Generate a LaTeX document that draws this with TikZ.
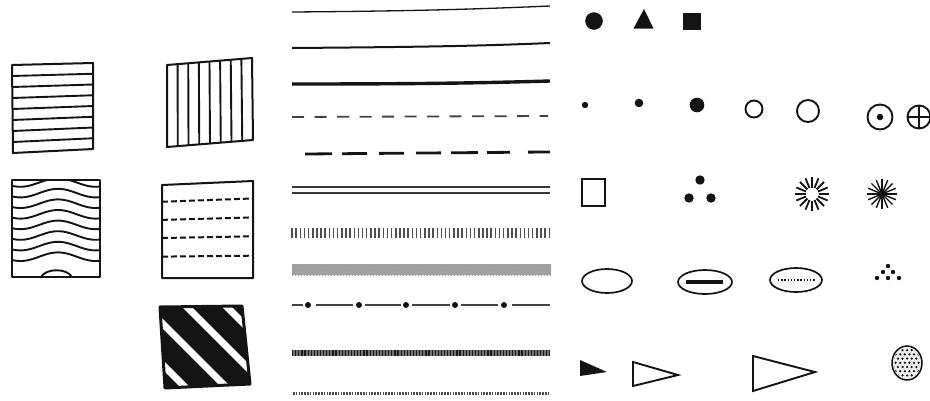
\documentclass[tikz,border=0pt]{standalone}
\usepackage{tikz}
\usetikzlibrary{calc, patterns}
\definecolor{inkblack}{RGB}{20, 20, 20}
\definecolor{screengray}{RGB}{155, 155, 155}
\definecolor{dotfill}{RGB}{238, 238, 238}
\tikzset{
  boxline/.style={draw=inkblack, line width=2pt, line join=round},
  hatchline/.style={draw=inkblack, line width=1.9pt},
  symline/.style={draw=inkblack, line width=1.9pt},
}

\begin{document}
\begin{tikzpicture}[x=1pt, y=-1pt]
  \fill[white] (0,0) rectangle (930,400);
  \useasboundingbox (0,0) rectangle (930,400);

  % Horizontal hatching
  \coordinate (hTL) at (12,65);  \coordinate (hTR) at (93,63);
  \coordinate (hBR) at (93,149); \coordinate (hBL) at (13,153);
  \draw[boxline] (hTL) -- (hTR) -- (hBR) -- (hBL) -- cycle;
  \foreach \i in {1,...,7}
    \draw[hatchline] ($(hTL)!\i/8!(hBL)$) -- ($(hTR)!\i/8!(hBR)$);

  % Vertical hatching
  \coordinate (vTL) at (167,65);  \coordinate (vTR) at (252,58);
  \coordinate (vBR) at (253,140); \coordinate (vBL) at (167,147);
  \draw[boxline] (vTL) -- (vTR) -- (vBR) -- (vBL) -- cycle;
  \foreach \i in {1,...,7}
    \draw[hatchline] ($(vTL)!\i/8!(vTR)$) -- ($(vBL)!\i/8!(vBR)$);

  % Wavy hatching
  \begin{scope}
    \clip (12,180) rectangle (100,277);
    \foreach \i in {0,...,7}
      \draw[hatchline] plot[domain=12:100, samples=45, smooth]
        (\x, {182.5+10.6*\i-4.3*cos(4.8*(\x-58))});
    \draw[hatchline] (41,277) .. controls (46,268) and (67,268) .. (72,277);
  \end{scope}
  \draw[boxline] (12,180) rectangle (100,277);

  % Dashed hatching
  \coordinate (dTL) at (162,185); \coordinate (dTR) at (253,181);
  \coordinate (dBR) at (253,278); \coordinate (dBL) at (162,278);
  \draw[boxline] (dTL) -- (dTR) -- (dBR) -- (dBL) -- cycle;
  \foreach \f in {0.18, 0.375, 0.57, 0.77}
    \draw[hatchline, line width=2pt, dash pattern=on 6pt off 3pt]
      ($(dTL)!\f!(dBL)$) -- ($(dTR)!\f!(dBR)$);

  % Diagonal stripes
  \coordinate (sTL) at (160,307); \coordinate (sTR) at (242,306);
  \coordinate (sBR) at (250,384); \coordinate (sBL) at (165,388);
  \fill[inkblack] (sTL) -- (sTR) -- (sBR) -- (sBL) -- cycle;
  \begin{scope}
    \clip (sTL) -- (sTR) -- (sBR) -- (sBL) -- cycle;
    \foreach \c in {80, 120, 161, 202}
      \draw[white, line width=7pt] (100,100+\c) -- (300,300+\c);
  \end{scope}
  \draw[inkblack, line width=3pt, line join=round] (sTL) -- (sTR) -- (sBR) -- (sBL) -- cycle;

  % Line styles
  \draw[inkblack, line width=1.3pt] (292,12) .. controls (420,11) and (480,9) .. (550,6);
  \draw[inkblack, line width=2pt] (292,48) .. controls (420,47) and (480,46) .. (550,43);
  \draw[inkblack, line width=3.4pt] (292,84) .. controls (420,84) and (480,83) .. (550,81);
  \draw[inkblack!80, line width=1.8pt, dash pattern=on 12pt off 10.5pt] (292,117) -- (548,116);
  \foreach \a/\b in {305/332, 342/367, 379/404, 416/441, 451/478, 487/510, 528/550}
    \draw[inkblack, line width=2.8pt] (\a,{154-(\a-305)/120}) -- (\b,{154-(\b-305)/120});
  \draw[inkblack!85, line width=1.3pt] (292,187) -- (550,187);
  \draw[inkblack!85, line width=1.3pt] (292,193) -- (550,193);
  \foreach \i in {0,...,62}
    \draw[inkblack!75, line width=1.5pt] (292+4.15*\i,228) -- ++(0,10);
  \fill[screengray] (292,264) rectangle (551,275);
  \fill[pattern=crosshatch, pattern color=black!35] (292,264) rectangle (551,275);
  \foreach \a/\b in {292/303, 316/353, 365/401, 412/450, 461/498, 512/550}
    \draw[inkblack!80, line width=1.2pt] (\a,305) -- (\b,305);
  \foreach \p in {308, 359, 406, 455, 504}
    \fill[inkblack] (\p,305) circle[radius=3pt];
  \draw[black!55, line width=6pt] (292,353) -- (550,353);
  \draw[black!90, line width=6pt, dash pattern=on 1.2pt off 1.9pt] (292,353) -- (550,353);
  \draw[black!70, line width=3pt, dash pattern=on 1.6pt off 1.2pt] (293,393) -- (550,393);

  % Solid symbols
  \fill[inkblack] (594,21) circle[radius=8.8pt];
  \fill[inkblack] (633.5,28.5) -- (644,9) -- (653.5,28.5) -- cycle;
  \fill[inkblack] (683,13) rectangle (701,30);

  % Dots and circles
  \fill[inkblack] (585,105) circle[radius=3.2pt];
  \fill[inkblack] (639,103) circle[radius=4.3pt];
  \fill[inkblack] (697,105) circle[radius=7.3pt];
  \draw[symline] (754,109) circle[radius=8.5pt];
  \draw[symline] (808,111) circle[radius=11pt];
  \draw[symline] (880,117) circle[radius=12.5pt];
  \fill[inkblack] (880,117) circle[radius=3.3pt];
  \draw[symline] (919,117) circle[radius=11.5pt];
  \draw[symline] (907.5,117) -- (930.5,117) (919,105.5) -- (919,128.5);

  % Square, dot group, bursts
  \draw[symline, line width=2.3pt] (582,179) rectangle (605,206);
  \foreach \p in {{(700,180)}, {(689,198)}, {(711,198)}}
    \fill[inkblack] \p circle[radius=4.7pt];
  \foreach \a in {0,22.5,...,337.5}
    \draw[inkblack, line width=1.8pt] (812,194) ++(\a:6.5pt) -- ++(\a:10.5pt);
  \foreach \a in {0,22.5,...,337.5}
    \draw[inkblack, line width=1.4pt] (882,194) -- ++(\a:15pt);
  \fill[inkblack] (882,194) circle[radius=3.5pt];

  % Ellipses
  \draw[symline, line width=1.7pt] (607,281) ellipse[x radius=25pt, y radius=12pt];
  \draw[symline, line width=1.7pt] (705,282) ellipse[x radius=27pt, y radius=12pt];
  \draw[inkblack, line width=3.5pt] (686,282) -- (723,282);
  \draw[symline, line width=1.7pt] (796,280) ellipse[x radius=26pt, y radius=12pt];
  \draw[inkblack, line width=2pt, dash pattern=on 1.3pt off 1.9pt] (778,280) -- (816,280);
  \foreach \p in {{(888,266)}, {(883,272)}, {(893,272)}, {(877,278)}, {(888,278)}, {(899,278)}}
    \fill[inkblack] \p circle[radius=2.2pt];

  % Pennants
  \fill[inkblack] (580,360) -- (580,376) -- (607,372) -- cycle;
  \draw[symline, line join=miter] (633,362) -- (633,386) -- (678,375) -- cycle;
  \draw[symline, line join=miter] (753,356) -- (753,391) -- (815,372) -- cycle;

  % Stippled ellipse
  \fill[dotfill] (907,363) ellipse[x radius=15pt, y radius=17pt];
  \begin{scope}
    \clip (907,363) ellipse[x radius=13.5pt, y radius=15.5pt];
    \foreach \r in {0,...,8}
      \foreach \c in {0,...,7}
        \fill[inkblack] ({891+4.6*\c+2.3*mod(\r,2)}, {346+4.2*\r}) circle[radius=1.25pt];
  \end{scope}
  \draw[symline, line width=1.5pt] (907,363) ellipse[x radius=15pt, y radius=17pt];
\end{tikzpicture}
\end{document}
